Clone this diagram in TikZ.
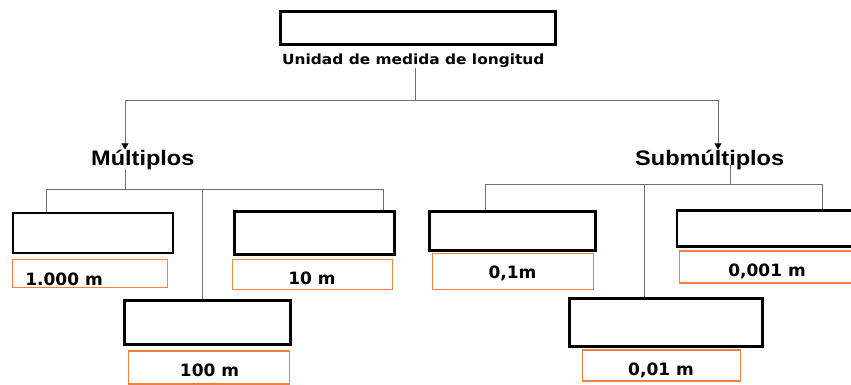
\documentclass[tikz,border=0pt]{standalone}
\usepackage{fontspec}
\setmainfont{DejaVu Sans}
\newfontfamily\headfont[FakeStretch=1.12]{Liberation Sans}
\newfontfamily\labfont[FakeStretch=1.1]{DejaVu Sans}
\usetikzlibrary{arrows.meta}
\definecolor{orng}{HTML}{EE8240}
\definecolor{lnk}{HTML}{6E6E6E}
\begin{document}
\begin{tikzpicture}[x=1pt,y=-1pt,
  blackbox/.style={draw=black,line width=2.6pt,fill=white,inner sep=0pt},
  orangebox/.style={draw=orng,line width=1.6pt,fill=white,inner sep=0pt},
  numtext/.style={font=\fontsize{17}{20}\selectfont\bfseries,inner sep=0pt,anchor=base},
  link/.style={draw=lnk,line width=0.9pt},
  arr/.style={link,-{Triangle[width=7pt,length=6pt,color=black]}},
  head/.style={font=\headfont\fontsize{21}{24}\selectfont\bfseries,inner sep=0pt,anchor=base west}
]
\useasboundingbox (0,0) rectangle (851,385);

% coordinates of junctions
\coordinate (t0) at (415,100);
\coordinate (tl) at (125,100);
\coordinate (tr) at (718,100);
\coordinate (mj) at (125,189);
\coordinate (ml) at (46,189);
\coordinate (mr) at (383,189);
\coordinate (mm) at (202,189);
\coordinate (sj) at (730,184);
\coordinate (sl) at (485,184);
\coordinate (sr) at (822,184);
\coordinate (sm) at (644,184);

% top
\node[blackbox,minimum width=275pt,minimum height=33pt] (top) at (418,28) {};
\node[font=\labfont\fontsize{14}{16}\selectfont\bfseries,inner sep=0pt,anchor=base west] (unidad) at (282,64.5) {Unidad de medida de longitud};

% headings
\node[head] (mult) at (91,165) {Múltiplos};
\node[head] (sub) at (635,165) {Submúltiplos};

% boxes
\node[blackbox,minimum width=160pt,minimum height=40pt] (b1) at (93,233) {};
\node[blackbox,minimum width=160pt,minimum height=43pt] (b2) at (314.5,233) {};
\node[blackbox,minimum width=166pt,minimum height=44pt] (b3) at (207.5,322.5) {};
\node[blackbox,minimum width=166pt,minimum height=39pt] (b4) at (512.5,231) {};
\node[blackbox,minimum width=180pt,minimum height=36pt] (b5) at (767,228.5) {};
\node[blackbox,minimum width=193pt,minimum height=48pt] (b6) at (666,322.5) {};

% orange value boxes
\node[orangebox,minimum width=155pt,minimum height=28pt] (o1) at (90,273.5) {};
\node[orangebox,minimum width=160pt,minimum height=30pt] (o2) at (312.5,274.5) {};
\node[orangebox,minimum width=161pt,minimum height=33pt] (o3) at (209,367.5) {};
\node[orangebox,minimum width=161pt,minimum height=36pt] (o4) at (513,271.5) {};
\node[orangebox,minimum width=175pt,minimum height=32pt] (o5) at (767,267) {};
\node[orangebox,minimum width=158pt,minimum height=31pt] (o6) at (661.5,365.5) {};

\node[numtext] (v1) at (64,285) {1.000 m};
\node[numtext] (v2) at (312,284) {10 m};
\node[numtext] (v3) at (209.5,376) {100 m};
\node[numtext] (v4) at (512.5,278) {0,1m};
\node[numtext] (v5) at (767,276) {0,001 m};
\node[numtext] (v6) at (661,375) {0,01 m};

% connectors
\draw[link] (unidad.south -| t0) -- (t0);
\draw[link] (tl) -- (tr);
\draw[arr] (tl) -- (tl |- mult.north);
\draw[arr] (tr) -- (tr |- sub.north);

\draw[link] (mult.south -| mj) -- (mj);
\draw[link] (ml) -- (mr);
\draw[link] (ml) -- (ml |- b1.north);
\draw[link] (mr) -- (mr |- b2.north);
\draw[link] (mm) -- (mm |- b3.north);

\draw[link] (sj |- sub.base) -- (sj);
\draw[link] (sl) -- (sr);
\draw[link] (sl) -- (sl |- b4.north);
\draw[link] (sr) -- (sr |- b5.north);
\draw[link] (sm) -- (sm |- b6.north);
\end{tikzpicture}
\end{document}
